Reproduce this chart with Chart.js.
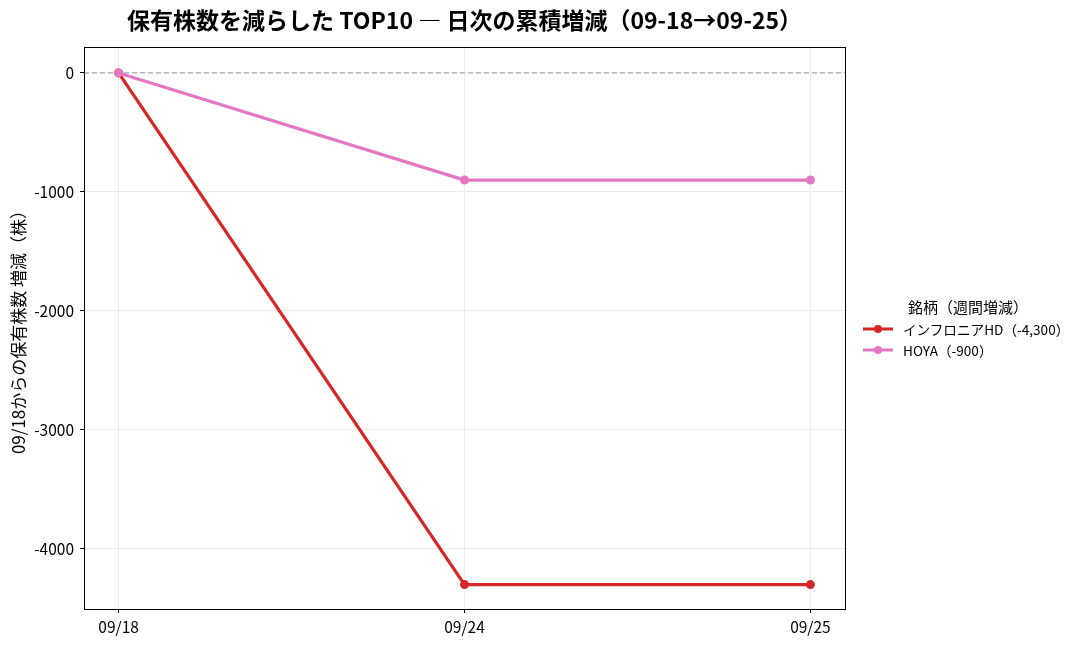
<!DOCTYPE html>
<html lang="ja">
<head>
<meta charset="utf-8">
<script src="https://cdn.jsdelivr.net/npm/chart.js@4.4.1/dist/chart.umd.min.js"></script>
<style>
  html, body { margin: 0; padding: 0; background: #fff; }
  body { font-family: "Noto Sans CJK JP", "Noto Sans", sans-serif; }
  #wrap { position: relative; width: 1088px; height: 649px; }
  #title {
    position: absolute; top: 2px; left: 84px; width: 761px;
    text-align: center; font-size: 23px; font-weight: bold; color: #000;
  }
  #legend { position: absolute; left: 863px; top: 296px; font-size: 13.6px; color: #000; }
  #legend .ttl { font-size: 15px; margin-left: 45px; margin-bottom: 1px; }
  #legend .item { display: flex; align-items: center; height: 21px; }
  #legend svg { margin-right: 10px; }
</style>
</head>
<body>
<div id="wrap">
  <canvas id="chart" width="1088" height="649"></canvas>
  <div id="title">保有株数を減らした TOP10 — 日次の累積増減（09-18→09-25）</div>
  <div id="legend"></div>
</div>
<script>
// 日付と系列データ
const dates = ['09/18', '09/24', '09/25'];
const infroneriaValues = [0, -4300, -4300];
const hoyaValues = [0, -900, -900];
const seriesNames = ['インフロニアHD（-4,300）', 'HOYA（-900）'];
const seriesColors = ['#d62728', '#e377c2'];
const yTicks = [0, -1000, -2000, -3000, -4000];

const FONT = '"Noto Sans CJK JP", "Noto Sans", sans-serif';

// 値の配列を {x, y} に変換
function toPoints(values) {
    return values.map((v, i) => ({ x: i, y: v }));
}

// ゼロの破線と枠線を描くプラグイン
const framePlugin = {
    id: 'frame',
    beforeDatasetsDraw(chart) {
        const { ctx, chartArea, scales } = chart;
        const y0 = scales.y.getPixelForValue(0);
        ctx.save();
        ctx.strokeStyle = '#aaaaaa';
        ctx.lineWidth = 1.2;
        ctx.setLineDash([5, 3]);
        ctx.beginPath();
        ctx.moveTo(chartArea.left, y0);
        ctx.lineTo(chartArea.right, y0);
        ctx.stroke();
        ctx.restore();
    },
    afterDraw(chart) {
        const { ctx, chartArea } = chart;
        ctx.save();
        ctx.strokeStyle = '#000';
        ctx.lineWidth = 1;
        ctx.strokeRect(chartArea.left + 0.5, chartArea.top + 0.5,
            chartArea.right - chartArea.left, chartArea.bottom - chartArea.top);
        ctx.restore();
    }
};

// 後の系列を上に描く（order が小さいほど手前）
const datasets = [infroneriaValues, hoyaValues].map((vals, i) => ({
    label: seriesNames[i],
    data: toPoints(vals),
    borderColor: seriesColors[i],
    backgroundColor: seriesColors[i],
    borderWidth: 3.2,
    pointRadius: 4.5,
    pointBorderWidth: 0,
    pointHoverRadius: 4.5,
    order: 1 - i,
    tension: 0
}));

new Chart(document.getElementById('chart'), {
    type: 'line',
    data: { datasets: datasets },
    plugins: [framePlugin],
    options: {
        responsive: false,
        animation: false,
        layout: { padding: { top: 47, right: 243, left: 0, bottom: 0 } },
        plugins: { legend: { display: false }, tooltip: { enabled: false } },
        scales: {
            x: {
                type: 'linear',
                min: -0.1,
                max: 2.1,
                afterBuildTicks: s => { s.ticks = dates.map((d, i) => ({ value: i })); },
                afterFit: s => { s.height = 40; },
                ticks: {
                    callback: v => dates[v],
                    color: '#000',
                    font: { family: FONT, size: 15.5 },
                    padding: 5
                },
                grid: { color: '#ebebeb', tickColor: '#000', tickLength: 4 },
                border: { display: false }
            },
            y: {
                type: 'linear',
                min: -4505,
                max: 218,
                afterBuildTicks: s => { s.ticks = yTicks.map(v => ({ value: v })); },
                afterFit: s => { s.width = 84; },
                ticks: {
                    callback: v => String(v),
                    color: '#000',
                    font: { family: FONT, size: 15.5 },
                    padding: 6
                },
                grid: { color: '#ebebeb', tickColor: '#000', tickLength: 4 },
                border: { display: false },
                title: {
                    display: true,
                    text: '09/18からの保有株数 増減（株）',
                    color: '#000',
                    font: { family: FONT, size: 17 },
                    padding: { top: 8, bottom: 0 }
                }
            }
        }
    }
});

// 凡例をHTMLで作成
const legendEl = document.getElementById('legend');
legendEl.innerHTML = '<div class="ttl">銘柄（週間増減）</div>' + seriesNames.map((name, i) =>
    '<div class="item"><svg width="30" height="10"><line x1="0" y1="5" x2="30" y2="5" stroke="' +
    seriesColors[i] + '" stroke-width="3"/><circle cx="15" cy="5" r="4" fill="' + seriesColors[i] +
    '"/></svg>' + name + '</div>').join('');
</script>
</body>
</html>
